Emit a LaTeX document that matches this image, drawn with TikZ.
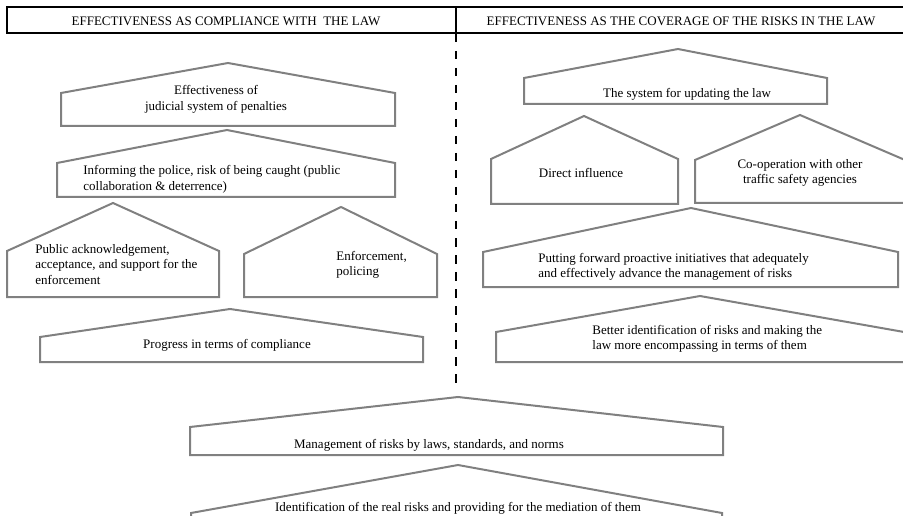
\documentclass[tikz,border=0pt]{standalone}
\usepackage{fontspec}
\setmainfont{Liberation Serif}
\usepackage{tikz}
\colorlet{CGray}{gray}

\begin{document}
\begin{tikzpicture}[x=1pt, y=-1pt, thick,
    font=\fontsize{13pt}{15.5pt}\selectfont,
    house/.style={draw=CGray, line width=2pt},
    label/.style={inner sep=0pt}]
    \useasboundingbox (0, 0) rectangle (903, 516);
    \clip (0, 0) rectangle (903, 516);

    \draw [line width=2pt] (7, 7) rectangle (910, 33);
    \node [label] (lawhead) at (226, 21) {EFFECTIVENESS AS COMPLIANCE WITH\ \ THE LAW};
    \node [label] (riskhead) at (681, 21) {EFFECTIVENESS AS THE COVERAGE OF THE RISKS IN THE LAW};
    \coordinate (divtop) at (456, 7);
    \coordinate (divmid) at (456, 34);
    \coordinate (divend) at (456, 383);
    \draw [line width=2.5pt] (divtop) -- (divmid);
    \draw [line width=2.5pt, dash pattern=on 8.5pt off 8.5pt] (divmid) -- (divend);

    \draw [house] (61, 126) -- (61, 93) -- (228, 63) -- (395, 93) -- (395, 126) -- cycle;
    \node [label, align=center] (judicial) at (216, 99.5) {Effectiveness of\\judicial system of penalties};

    \draw [house] (57, 197) -- (57, 163) -- (227, 130) -- (395, 163) -- (395, 197) -- cycle;
    \node [label, align=left, anchor=west] (informing) at (83, 179.5) {Informing the police, risk of being caught (public\\collaboration \& deterrence)};

    \draw [house] (7, 297) -- (7, 251) -- (113, 203) -- (219, 251) -- (219, 297) -- cycle;
    \node [label, align=left, anchor=west] (acceptance) at (35, 264.5) {Public acknowledgement,\\acceptance, and support for the\\enforcement};

    \draw [house] (244, 297) -- (244, 254) -- (341, 207) -- (437, 254) -- (437, 297) -- cycle;
    \node [label, align=left, anchor=west] (policing) at (336, 265) {Enforcement,\\policing};

    \draw [house] (40, 362) -- (40, 337) -- (230, 309) -- (423, 337) -- (423, 362) -- cycle;
    \node [label] (compliance) at (227, 345) {Progress in terms of compliance};

    \draw [house] (524, 104) -- (524, 78) -- (678, 49) -- (827, 78) -- (827, 104) -- cycle;
    \node [label] (updating) at (687, 94.5) {The system for updating the law};

    \draw [house] (491, 204) -- (491, 159) -- (584, 116) -- (678, 159) -- (678, 204) -- cycle;
    \node [label] (influence) at (581, 173) {Direct influence};

    \draw [house] (695, 203) -- (695, 160) -- (800, 115) -- (905, 160) -- (905, 203) -- cycle;
    \node [label, align=center] (cooperation) at (800, 173) {Co-operation with other\\traffic safety agencies};

    \draw [house] (483, 287) -- (483, 252) -- (691, 208) -- (898, 252) -- (898, 287) -- cycle;
    \node [label, align=left, anchor=west] (proactive) at (538, 267) {Putting forward proactive initiatives that adequately\\and effectively advance the management of risks};

    \draw [house] (496, 362) -- (496, 332) -- (700, 296) -- (904, 332) -- (904, 362) -- cycle;
    \node [label, align=left, anchor=west] (encompassing) at (592, 339) {Better identification of risks and making the\\law more encompassing in terms of them};

    \draw [house] (190, 455) -- (190, 427) -- (458, 397) -- (723, 427) -- (723, 455) -- cycle;
    \node [label] (management) at (429, 445) {Management of risks by laws, standards, and norms};

    \draw [house] (191, 540) -- (191, 513) -- (458, 465) -- (722, 513) -- (722, 540) -- cycle;
    \node [label] (identification) at (458, 508.5) {Identification of the real risks and providing for the mediation of them};
\end{tikzpicture}
\end{document}
